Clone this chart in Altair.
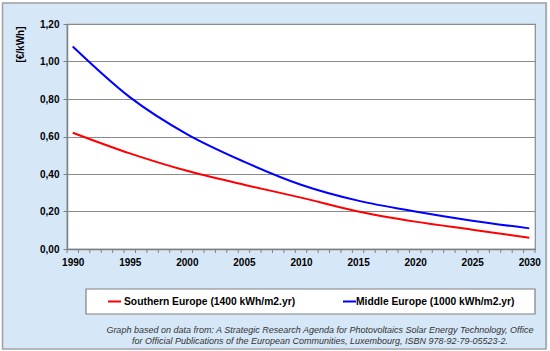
import altair as alt
import pandas as pd
import numpy as np

years = [1990, 1995, 2000, 2005, 2010, 2015, 2020, 2025, 2030]
southern = [0.62, 0.51, 0.417, 0.343, 0.274, 0.200, 0.146, 0.103, 0.060]
middle = [1.08, 0.81, 0.613, 0.466, 0.343, 0.258, 0.200, 0.151, 0.110]
series_names = ["Southern Europe (1400 kWh/m2.yr)", "Middle Europe (1000 kWh/m2.yr)"]
series_colors = ["#FF0000", "#0000FF"]
y_ticks = [0, 0.2, 0.4, 0.6, 0.8, 1.0, 1.2]
x_labels = [1990, 1995, 2000, 2005, 2010, 2015, 2020, 2025, 2030]
y_title = "[€/kWh]"
caption = [
    "Graph based on data from: A Strategic Research Agenda for Photovoltaics Solar Energy Technology, Office",
    "for Official Publications of the European Communities, Luxembourg, ISBN 978-92-79-05523-2.",
]

FONT = "Liberation Sans"
W, H = 468, 225
PL, PT = 67, 24

df = pd.DataFrame({
    "year": years * 2,
    "value": southern + middle,
    "series": [series_names[0]] * len(years) + [series_names[1]] * len(years),
})

xscale = alt.Scale(domain=[1989.5, 2030.5], nice=False, zero=False)
yscale = alt.Scale(domain=[0, 1.2], nice=False)

one = pd.DataFrame({"a": [0]})

# outer frame (stroke only)
frame_white = alt.Chart(one).mark_rect(fill="white", fillOpacity=0, stroke="white", strokeWidth=5).encode(
    x=alt.value(-PL), x2=alt.value(550 - PL), y=alt.value(-PT), y2=alt.value(351 - PT))
frame = alt.Chart(one).mark_rect(fillOpacity=0, stroke="#A0A0A0", strokeWidth=1.5).encode(
    x=alt.value(2.5 - PL), x2=alt.value(546 - PL), y=alt.value(3 - PT), y2=alt.value(349 - PT))

lines = alt.Chart(df).mark_line(strokeWidth=2, interpolate="monotone").encode(
    x=alt.X("year:Q", scale=xscale,
            axis=alt.Axis(values=x_labels, format="d", ticks=False, grid=False, title=None,
                          labelPadding=8, labelFontSize=10, labelFontWeight="bold", labelFont=FONT,
                          labelColor="black", domainColor="#808080", domainWidth=1.5)),
    y=alt.Y("value:Q", scale=yscale,
            axis=alt.Axis(values=y_ticks, labelExpr="replace(format(datum.value, '.2f'), '.', ',')",
                          tickSize=4, tickColor="#808080", domainColor="#808080", domainWidth=1.5,
                          gridColor="#8A8A8A", gridWidth=1.2,
                          labelPadding=4, labelFontSize=10, labelFontWeight="bold", labelFont=FONT,
                          labelColor="black",
                          title=y_title, titleFont=FONT, titleFontSize=10, titleFontWeight="bold",
                          titleColor="black", titleAngle=270, titleX=-47, titleY=20,
                          titleAlign="center", titleBaseline="middle")),
    color=alt.Color("series:N", scale=alt.Scale(domain=series_names, range=series_colors), legend=None),
)

tick_df = pd.DataFrame({"t": np.arange(1989.5, 2031.0, 1.0)})
xticks = alt.Chart(tick_df).mark_rule(color="#808080", strokeWidth=1).encode(
    x=alt.X("t:Q", scale=xscale), y=alt.value(H), y2=alt.value(H + 4))

# legend box
leg_box = alt.Chart(one).mark_rect(fill="white", stroke="#808080", strokeWidth=1.2).encode(
    x=alt.value(86 - PL), x2=alt.value(535 - PL), y=alt.value(289 - PT), y2=alt.value(314 - PT))
leg_y = 301.5 - PT
leg_layers = []
for name, col, lx, tx in [(series_names[0], series_colors[0], 108, 124),
                          (series_names[1], series_colors[1], 343, 356)]:
    leg_layers.append(alt.Chart(one).mark_rule(color=col, strokeWidth=2).encode(
        x=alt.value(lx - PL), x2=alt.value(lx + 13 - PL), y=alt.value(leg_y)))
    leg_layers.append(alt.Chart(pd.DataFrame({"label": [name]})).mark_text(
        font=FONT, fontSize=10.3, fontWeight="bold", align="left", baseline="middle", color="black").encode(
        text="label:N", x=alt.value(tx - PL), y=alt.value(leg_y)))

cap_layers = []
for line_text, cy in zip(caption, [330, 341]):
    cap_layers.append(alt.Chart(pd.DataFrame({"c": [line_text]})).mark_text(
        font=FONT, fontSize=9, fontStyle="italic", align="center", baseline="middle", color="#333333").encode(
        text="c:N", x=alt.value(320 - PL), y=alt.value(cy - PT)))

chart = alt.layer(
    frame_white, frame, xticks, lines, leg_box, *leg_layers, *cap_layers
).properties(
    width=W, height=H,
    autosize=alt.AutoSizeParams(type="none"),
    padding={"left": PL, "top": PT, "right": 550 - PL - W, "bottom": 351 - PT - H},
    background="#D6E7F8",
).configure_view(fill="white", stroke="#8A8A8A", strokeWidth=1.2)

chart.save("out.html", embed_options={"renderer": "svg", "actions": False})
